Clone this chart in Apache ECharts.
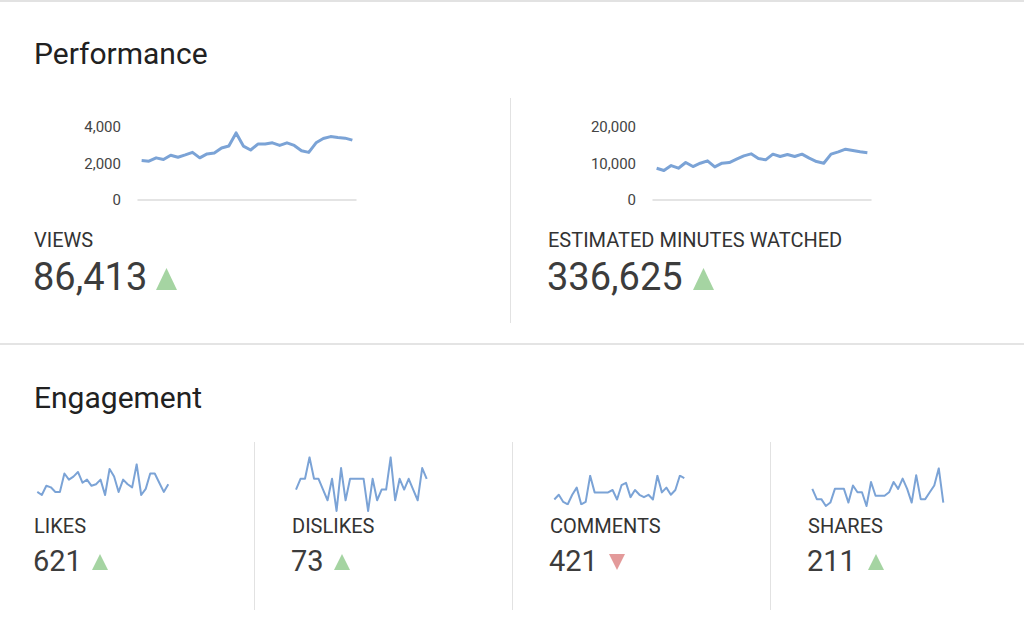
<!DOCTYPE html>
<html><head><meta charset="utf-8">
<script src="https://cdn.jsdelivr.net/npm/echarts@6/dist/echarts.min.js"></script>
<style>html,body{margin:0;padding:0;background:#fff}#c{width:1024px;height:628px}</style>
</head><body><div id="c"></div>
<script>
// ---- data ----
const days = [1,2,3,4,5,6,7,8,9,10,11,12,13,14,15,16,17,18,19,20,21,22,23,24,25,26,27,28,29,30];
const views = [2160,2125,2310,2215,2450,2340,2470,2610,2310,2525,2580,2850,2955,3675,2955,2740,3065,3065,3135,2990,3135,2990,2700,2610,3135,3370,3475,3420,3390,3280];
const minutes = [8710,8070,9440,8710,10270,9170,10080,10725,9075,10080,10270,11180,12100,12650,11365,11000,12560,11915,12470,11915,12560,11460,10540,10080,12560,13200,13930,13570,13200,12925];
const likes = [15,13,19,18,15,15,27,23,25,28,21,23,19,20,23,13,30,25,15,23,20,18,33,13,17,27,27,21,15,20];
const dislikes = [2,3,3,5,3,3,2,1,3,0,4,1,3,3,3,3,0,3,1,2,2,5,1,3,2,3,2,1,4,3];
const comments = [11,13,10,9,13,16,9,10,21,14,14,14,14,15,11,17,18,12,15,13,12,13,11,21,14,16,13,15,21,20];
const shares = [8,5,5,3,4,8,8,8,4,9,7,7,3,10,6,6,6,7,10,8,11,8,4,12,5,5,7,9,14,4];
const viewTicks = {min:0, max:4000, interval:2000};
const minuteTicks = {min:0, max:20000, interval:10000};
const totals = {views:'86,413', minutes:'336,625', likes:'621', dislikes:'73', comments:'421', shares:'211'};

const LINE = '#7ba3d6';
const FONT = 'Roboto, "Liberation Sans", sans-serif';
const chart = echarts.init(document.getElementById('c'), null, {renderer:'svg'});

function bigGrid(left){return {left:left, top:127, width:218, height:73};}
function sparkGrid(l,t,w,h){return {left:l, top:t, width:w, height:h};}

const grids = [bigGrid(138), bigGrid(653),
  sparkGrid(37.3,464.3,131,30.7), sparkGrid(296,457.3,130.7,53.7),
  sparkGrid(554.3,475.7,130,28.6), sparkGrid(812.3,468.3,131,37.7)];

const xAxes = grids.map((g,i)=> i<2 ? {
  type:'category', gridIndex:i, data:days, boundaryGap:true,
  axisLine:{show:true, lineStyle:{color:'#dcdcdc', width:1.5}},
  axisTick:{show:false}, axisLabel:{show:false}, splitLine:{show:false}
} : {type:'category', gridIndex:i, data:days, boundaryGap:false, show:false});

const fmt = v => v.toLocaleString('en-US');
const yAxes = [
  Object.assign({type:'value', gridIndex:0}, viewTicks),
  Object.assign({type:'value', gridIndex:1}, minuteTicks)
].map(a=>Object.assign(a,{
  axisLine:{show:false}, axisTick:{show:false}, splitLine:{show:false},
  axisLabel:{color:'#444', fontSize:15, fontFamily:FONT, margin:17, formatter:fmt}
})).concat([2,3,4,5].map(i=>({type:'value', gridIndex:i, min:'dataMin', max:'dataMax', show:false, splitLine:{show:false}})));

const sets = [views, minutes, likes, dislikes, comments, shares];
const series = sets.map((d,i)=>({
  type:'line', xAxisIndex:i, yAxisIndex:i, data:d, symbol:'none', silent:true,
  lineStyle:{color:LINE, width: i<2 ? 3 : 2, join:'round'}, animation:false
}));

function txt(x,y,s,size,color){return {type:'text', x:x, y:y, silent:true,
  style:{text:s, fontSize:size, fontFamily:FONT, fill:color, verticalAlign:'middle', align:'left'}};}
function rect(x,y,w,h,c){return {type:'rect', silent:true, shape:{x:x,y:y,width:w,height:h}, style:{fill:c}};}
function tri(x,y,w,h,up,c){
  const pts = up ? [[x,y+h],[x+w/2,y],[x+w,y+h]] : [[x,y],[x+w,y],[x+w/2,y+h]];
  return {type:'polygon', silent:true, shape:{points:pts}, style:{fill:c}};
}
const GREEN = '#a5d4a2', RED = '#e39a9a';
const graphics = [
  rect(0,0,1024,2,'#e2e2e2'),
  rect(0,343,1024,2,'#e4e4e4'),
  rect(510,98,1,225,'#e2e2e2'),
  rect(254,442,1,168,'#e2e2e2'),
  rect(512,442,1,168,'#e2e2e2'),
  rect(770,442,1,168,'#e2e2e2'),
  txt(34,53,'Performance',30,'#212121'),
  txt(34,397,'Engagement',30,'#212121'),
  txt(34,240,'VIEWS',20,'#333'),
  txt(33,277,totals.views,38,'#3c3c3c'),
  tri(156,268,21,22,true,GREEN),
  txt(548,240,'ESTIMATED MINUTES WATCHED',20,'#333'),
  txt(547,277,totals.minutes,38,'#3c3c3c'),
  tri(693,268,21,22,true,GREEN),
  txt(34,526,'LIKES',20,'#333'),
  txt(33,561,totals.likes,29,'#3c3c3c'),
  tri(92,554,16,16,true,GREEN),
  txt(292,526,'DISLIKES',20,'#333'),
  txt(291,561,totals.dislikes,29,'#3c3c3c'),
  tri(334,554,16,16,true,GREEN),
  txt(550,526,'COMMENTS',20,'#333'),
  txt(549,561,totals.comments,29,'#3c3c3c'),
  tri(609,554,16,16,false,RED),
  txt(808,526,'SHARES',20,'#333'),
  txt(807,561,totals.shares,29,'#3c3c3c'),
  tri(868,554,16,16,true,GREEN)
];

chart.setOption({
  animation:false,
  backgroundColor:'#fff',
  grid:grids, xAxis:xAxes, yAxis:yAxes, series:series,
  graphic:{elements:graphics}
});
</script></body></html>
